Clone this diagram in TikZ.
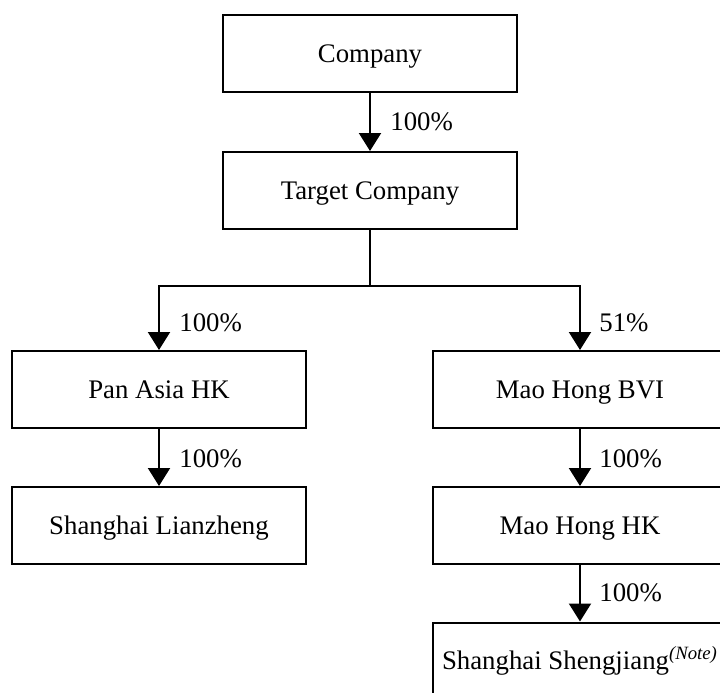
\documentclass[tikz,border=0pt]{standalone}
\usepackage{fontspec}
\setmainfont{Liberation Serif}
\usetikzlibrary{arrows.meta}
\begin{document}
\begin{tikzpicture}[x=0.5pt,y=-0.5pt,
  box/.style={draw,line width=1pt,minimum width=147pt,minimum height=38.5pt,inner sep=0pt,text height=8.8pt,text depth=0pt,font=\fontsize{13.4pt}{16pt}\selectfont},
  conn/.style={line width=1pt,-{Triangle[length=9pt,width=11pt]}},
  plain/.style={line width=1pt},
  pct/.style={anchor=west,inner sep=0pt,text height=8.8pt,text depth=0pt,font=\fontsize{13.4pt}{16pt}\selectfont}]
\useasboundingbox (0,0) rectangle (720,693);
\clip (0,0) rectangle (720,693);
\node[box] (company) at (370,53.5) {Company};
\node[box] (target) at (370,190.5) {Target Company};
\node[box] (panasia) at (159,389.5) {Pan Asia HK};
\node[box] (lianzheng) at (159,525.5) {Shanghai Lianzheng};
\node[box] (bvi) at (580,389.5) {Mao Hong BVI};
\node[box] (mhhk) at (580,525.5) {Mao Hong HK};
\node[box] (sheng) at (580,661) {Shanghai Shengjiang\textsuperscript{\textit{(Note)}}};
\coordinate (split) at (370,286);
\draw[conn] (company) -- (target);
\draw[plain] (target.south) -- (split);
\draw[conn] (split) -| (panasia.north);
\draw[conn] (split) -| (bvi.north);
\draw[conn] (panasia) -- (lianzheng);
\draw[conn] (bvi) -- (mhhk);
\draw[conn] (mhhk) -- (sheng);
\node[pct] (p1) at (390,122) {100\%};
\node[pct] (p2) at (179,323) {100\%};
\node[pct] (p3) at (599,323) {51\%};
\node[pct] (p4) at (179,459) {100\%};
\node[pct] (p5) at (599,459) {100\%};
\node[pct] (p6) at (599,593) {100\%};
\end{tikzpicture}
\end{document}
